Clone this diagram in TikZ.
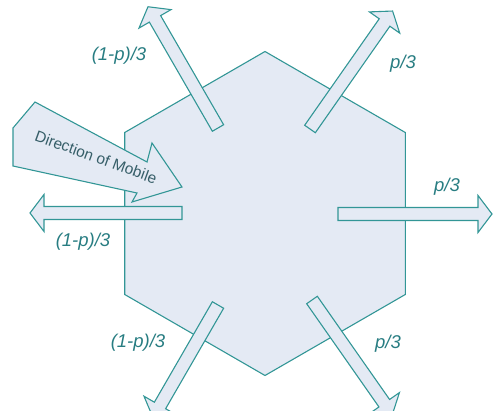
\documentclass[tikz,border=0pt]{standalone}
\usepackage{fontspec}
\setmainfont{Liberation Sans}
\usepackage{xcolor}
\definecolor{celledge}{RGB}{50,150,150}
\definecolor{cellfill}{RGB}{228,234,244}
\definecolor{labelteal}{RGB}{40,125,130}
\definecolor{dirtext}{RGB}{55,95,105}
\usepackage{tikz}
\usetikzlibrary{calc}

\begin{document}
\begin{tikzpicture}[
  x=1pt, y=-1pt,
  cell/.style={draw=celledge, fill=cellfill, line width=1.1pt, line join=miter},
  arrowbox/.style={draw=celledge, fill=cellfill, line width=1.1pt, line join=miter},
  lbl/.style={font=\fontsize{18.5}{22}\selectfont\itshape, text=labelteal, inner sep=0pt},
  dirlbl/.style={font=\fontsize{15.5}{18}\selectfont, text=dirtext, inner sep=0pt},
  blkarrow/.pic={\draw[arrowbox] (0,-6.5) -- (#1-14,-6.5) -- (#1-14,-18.5) -- (#1,0) -- (#1-14,18.5) -- (#1-14,6.5) -- (0,6.5) -- cycle;}
]
\useasboundingbox (0,0) rectangle (493,411);

% cell
\coordinate (ctr) at (265,213.5);
\draw[cell] ([shift={(90:162)}]ctr) -- ([shift={(30:162)}]ctr) -- ([shift={(-30:162)}]ctr)
  -- ([shift={(-90:162)}]ctr) -- ([shift={(-150:162)}]ctr) -- ([shift={(150:162)}]ctr) -- cycle;

% handover arrows
\pic[rotate=120] at (218,128) {blkarrow=140};
\pic[rotate=55] at (310,129) {blkarrow=144};
\pic[rotate=0] at (338,214) {blkarrow=154};
\pic[rotate=180] at (182,213) {blkarrow=152};
\pic[rotate=-120] at (218,305) {blkarrow=130};
\pic[rotate=-55] at (312,300) {blkarrow=140};

% direction of mobile
\draw[arrowbox] (35,102) -- (147,162) -- (152,143) -- (182,187) -- (132,202) -- (137,193)
  -- (13,166) -- (13,128) -- cycle;
\node[dirlbl, rotate=-20] (dir) at (96,157) {Direction of Mobile};

% probabilities
\node[lbl] (pul) at (119,56) {(1-p)/3};
\node[lbl] (pur) at (403,64) {p/3};
\node[lbl] (pr) at (447,187) {p/3};
\node[lbl] (pl) at (83,242) {(1-p)/3};
\node[lbl] (pll) at (138,343) {(1-p)/3};
\node[lbl] (plr) at (388,344) {p/3};
\end{tikzpicture}
\end{document}
